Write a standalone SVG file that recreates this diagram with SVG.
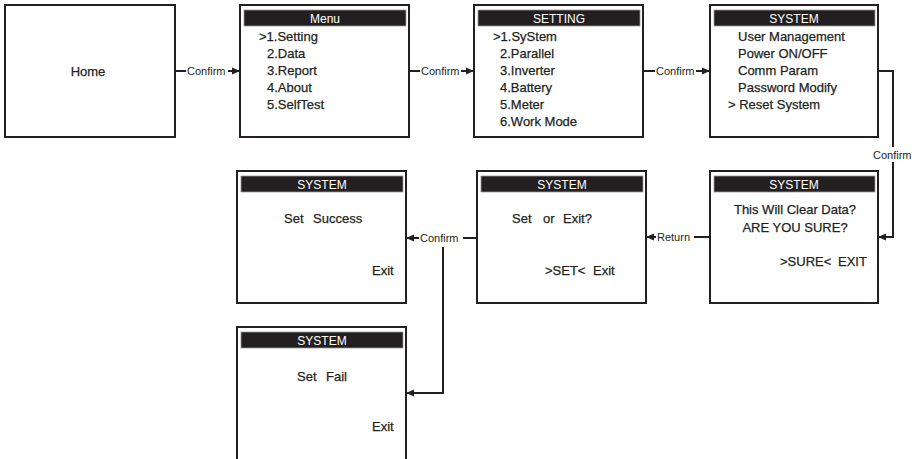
<svg xmlns="http://www.w3.org/2000/svg" width="921" height="459" viewBox="0 0 921 459">
<style>
.box{fill:#fff;stroke:#231f20;stroke-width:2}
.hdr{fill:#231f20;stroke:#9a9a9a;stroke-width:0.8}
.ht{font-family:"Liberation Sans",Arial,sans-serif;font-size:12px;fill:#fff;text-anchor:middle}
.t{font-family:"Liberation Sans",Arial,sans-serif;font-size:13px;fill:#231f20;stroke:#231f20;stroke-width:0.25}
.lbl{font-family:"Liberation Sans",Arial,sans-serif;font-size:11px;fill:#231f20}
.ln{fill:none;stroke:#231f20;stroke-width:2}
</style>
<defs>
<marker id="ah" markerUnits="userSpaceOnUse" markerWidth="9" markerHeight="8" refX="8" refY="4" orient="auto">
<path d="M0,0.5 L8,4 L0,7.5 z" fill="#231f20"/>
</marker>
</defs>

<g id="home">
<rect class="box" x="5" y="5" width="170" height="132"/>
<text class="t" x="88" y="76" text-anchor="middle">Home</text>
</g>

<g id="menu">
<rect class="box" x="240" y="5" width="169" height="132"/>
<rect class="hdr" x="244" y="10" width="162" height="16"/>
<text class="ht" x="325" y="22.5">Menu</text>
<text class="t" x="259" y="41">&gt;1.Setting</text>
<text class="t" x="267" y="58">2.Data</text>
<text class="t" x="267" y="75">3.Report</text>
<text class="t" x="267" y="92">4.About</text>
<text class="t" x="267" y="109">5.SelfTest</text>
</g>

<g id="setting">
<rect class="box" x="474" y="5" width="169" height="132"/>
<rect class="hdr" x="478" y="10" width="162" height="16"/>
<text class="ht" x="559" y="22.5">SETTING</text>
<text class="t" x="493" y="41">&gt;1.SyStem</text>
<text class="t" x="500" y="58">2.Parallel</text>
<text class="t" x="500" y="75">3.Inverter</text>
<text class="t" x="500" y="92">4.Battery</text>
<text class="t" x="500" y="109">5.Meter</text>
<text class="t" x="500" y="126">6.Work Mode</text>
</g>

<g id="system-menu">
<rect class="box" x="710" y="5" width="168" height="132"/>
<rect class="hdr" x="714" y="10" width="161" height="16"/>
<text class="ht" x="794" y="22.5">SYSTEM</text>
<text class="t" x="738" y="41">User Management</text>
<text class="t" x="738" y="58">Power ON/OFF</text>
<text class="t" x="738" y="75">Comm Param</text>
<text class="t" x="738" y="92">Password Modify</text>
<text class="t" x="728" y="109">&gt; Reset System</text>
</g>

<g id="system-clear">
<rect class="box" x="710" y="171" width="168" height="132"/>
<rect class="hdr" x="714" y="176" width="161" height="16"/>
<text class="ht" x="794" y="188.5">SYSTEM</text>
<text class="t" x="795" y="214" text-anchor="middle">This Will Clear Data?</text>
<text class="t" x="795" y="232" text-anchor="middle">ARE YOU SURE?</text>
<text class="t" y="266"><tspan x="780">&gt;SURE&lt;</tspan> <tspan x="838">EXIT</tspan></text>
</g>

<g id="system-setexit">
<rect class="box" x="477" y="171" width="169" height="132"/>
<rect class="hdr" x="481" y="176" width="162" height="16"/>
<text class="ht" x="562" y="188.5">SYSTEM</text>
<text class="t" y="223"><tspan x="512">Set</tspan> <tspan x="543">or</tspan> <tspan x="563">Exit?</tspan></text>
<text class="t" y="275"><tspan x="545">&gt;SET&lt;</tspan> <tspan x="593">Exit</tspan></text>
</g>

<g id="system-success">
<rect class="box" x="237" y="171" width="169" height="132"/>
<rect class="hdr" x="241" y="176" width="162" height="16"/>
<text class="ht" x="322" y="188.5">SYSTEM</text>
<text class="t" y="223"><tspan x="284">Set</tspan> <tspan x="313">Success</tspan></text>
<text class="t" x="372" y="275">Exit</text>
</g>

<g id="system-fail">
<rect class="box" x="237" y="327" width="169" height="145"/>
<rect class="hdr" x="241" y="332" width="162" height="16"/>
<text class="ht" x="322" y="344.5">SYSTEM</text>
<text class="t" y="381"><tspan x="297">Set</tspan> <tspan x="326">Fail</tspan></text>
<text class="t" x="372" y="431">Exit</text>
</g>

<g id="connectors">
<path class="ln" d="M175,71 H186"/>
<text class="lbl" x="187" y="75">Confirm</text>
<path class="ln" d="M228,71 H240" marker-end="url(#ah)"/>

<path class="ln" d="M409,71 H420"/>
<text class="lbl" x="421" y="75">Confirm</text>
<path class="ln" d="M461,71 H474" marker-end="url(#ah)"/>

<path class="ln" d="M643,71 H655"/>
<text class="lbl" x="656" y="75">Confirm</text>
<path class="ln" d="M696,71 H710" marker-end="url(#ah)"/>

<path class="ln" d="M878,71 H893 V147"/>
<text class="lbl" x="873" y="159">Confirm</text>
<path class="ln" d="M893,162 V237 H878" marker-end="url(#ah)"/>

<path class="ln" d="M710,237 H694"/>
<text class="lbl" x="657" y="241">Return</text>
<path class="ln" d="M656,237 H646" marker-end="url(#ah)"/>

<path class="ln" d="M477,238 H463"/>
<text class="lbl" x="420" y="242">Confirm</text>
<path class="ln" d="M419,238 H406" marker-end="url(#ah)"/>
<path class="ln" d="M443,247 V393 H406" marker-end="url(#ah)"/>
</g>
</svg>
